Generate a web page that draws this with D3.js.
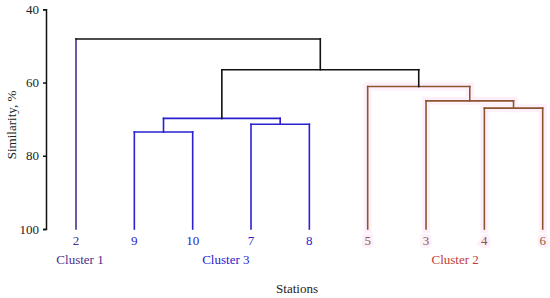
<!DOCTYPE html>
<html>
<head>
<meta charset="utf-8">
<script src="https://cdn.jsdelivr.net/npm/d3@7"></script>
<style>
  body { margin: 0; background: #fff; }
  text { font-family: "Liberation Serif", "Times New Roman", serif; }
</style>
</head>
<body>
<div id="chart-area"></div>
<script>
// leaves in drawing order
var stations = ["2", "9", "10", "7", "8", "5", "3", "4", "6"]
var stationCluster = [1, 3, 3, 3, 3, 2, 2, 2, 2]

// merges: node id = stations.length + index
var mergeA = [1, 3, 7, 6, 5, 9, 14, 0]
var mergeB = [2, 4, 8, 11, 12, 10, 13, 15]
var mergeSim = [73.5, 71.4, 67.0, 65.0, 61.1, 69.8, 56.5, 48.1]
var mergeCluster = [3, 3, 2, 2, 2, 3, 0, 0]

var clusterNames = ["Cluster 1", "Cluster 3", "Cluster 2"]
var clusterIds = [1, 3, 2]
var yTicks = [40, 60, 80, 100]

var lineColor = { 0: "#111111", 1: "#4a2f8c", 2: "#8b5530", 3: "#2a20d0" }
var textColor = { 1: "#4a2f8c", 2: "#c0403a", 3: "#2a20d0" }
var leafTextColor = { 1: "#4a2f8c", 2: "#8b5a3a", 3: "#2a20d0" }
var glow = "#fdf0fb"

var width = 550, height = 298
var svg = d3.select("#chart-area").append("svg")
    .attr("width", width)
    .attr("height", height)

var yScale = d3.scaleLinear()
    .domain([40, 100])
    .range([9.3, 229])

var xScale = d3.scalePoint()
    .domain(stations)
    .range([76, 542.7])

// node positions
var nodeX = stations.map(function(s) { return xScale(s) })
var nodeY = stations.map(function() { return yScale(100) })
mergeA.forEach(function(a, i) {
    nodeX.push((nodeX[a] + nodeX[mergeB[i]]) / 2)
    nodeY.push(yScale(mergeSim[i]))
})

// build segments
var segs = []
mergeA.forEach(function(a, i) {
    var y = yScale(mergeSim[i])
    var c = mergeCluster[i]
    ;[a, mergeB[i]].forEach(function(ch) {
        var lc = ch < stations.length ? stationCluster[ch] : c
        segs.push({ x1: nodeX[ch], y1: nodeY[ch], x2: nodeX[ch], y2: y, c: lc })
    })
    segs.push({ x1: nodeX[a], y1: y, x2: nodeX[mergeB[i]], y2: y, c: c })
})

// faint pink glow under cluster 2
svg.append("g").selectAll("line")
    .data(segs.filter(function(d) { return d.c == 2 }))
    .enter().append("line")
    .attr("x1", function(d) { return d.x1 }).attr("y1", function(d) { return d.y1 })
    .attr("x2", function(d) { return d.x2 }).attr("y2", function(d) { return d.y2 })
    .attr("stroke", glow)
    .attr("stroke-width", 8)
    .attr("stroke-linecap", "square")

svg.append("g").selectAll("line")
    .data(segs)
    .enter().append("line")
    .attr("x1", function(d) { return d.x1 }).attr("y1", function(d) { return d.y1 })
    .attr("x2", function(d) { return d.x2 }).attr("y2", function(d) { return d.y2 })
    .attr("stroke", function(d) { return lineColor[d.c] })
    .attr("stroke-width", 1.6)
    .attr("stroke-linecap", "square")

// Y axis
var yAxisGroup = svg.append("g")
    .attr("transform", "translate(46,0)")
    .call(d3.axisLeft(yScale).tickValues(yTicks).tickSize(3).tickPadding(4))
yAxisGroup.selectAll("path").attr("stroke", "#111").attr("stroke-width", 1.5)
yAxisGroup.selectAll("line").attr("stroke", "#111").attr("stroke-width", 1.5)
yAxisGroup.selectAll("text")
    .style("font-family", "Liberation Serif")
    .style("font-size", "13px")
    .attr("fill", "#222")

svg.append("text")
    .attr("transform", "translate(16," + 125 + ") rotate(-90)")
    .style("text-anchor", "middle")
    .style("font-size", "13px")
    .attr("fill", "#222")
    .text("Similarity, %")

// leaf labels
svg.append("g").selectAll("text")
    .data(stations)
    .enter().append("text")
    .attr("x", function(d) { return xScale(d) })
    .attr("y", 245)
    .style("text-anchor", "middle")
    .style("font-size", "13px")
    .attr("fill", function(d, i) { return leafTextColor[stationCluster[i]] })
    .attr("stroke", function(d, i) { return stationCluster[i] == 2 ? glow : "none" })
    .attr("stroke-width", 6)
    .attr("paint-order", "stroke")
    .text(function(d) { return d })

// cluster labels, centred under their leaves
svg.append("g").selectAll("text")
    .data(clusterNames)
    .enter().append("text")
    .attr("x", function(d, i) {
        var xs = stations.filter(function(s, j) { return stationCluster[j] == clusterIds[i] }).map(xScale)
        return i == 0 ? 80 : d3.mean(xs) + (i == 2 ? 0 : 4)
    })
    .attr("y", 264)
    .style("text-anchor", "middle")
    .style("font-size", "13px")
    .attr("fill", function(d, i) { return textColor[clusterIds[i]] })
    .text(function(d) { return d })

svg.append("text")
    .attr("x", 297)
    .attr("y", 293)
    .style("text-anchor", "middle")
    .style("font-size", "13px")
    .attr("fill", "#222")
    .text("Stations")
</script>
</body>
</html>
